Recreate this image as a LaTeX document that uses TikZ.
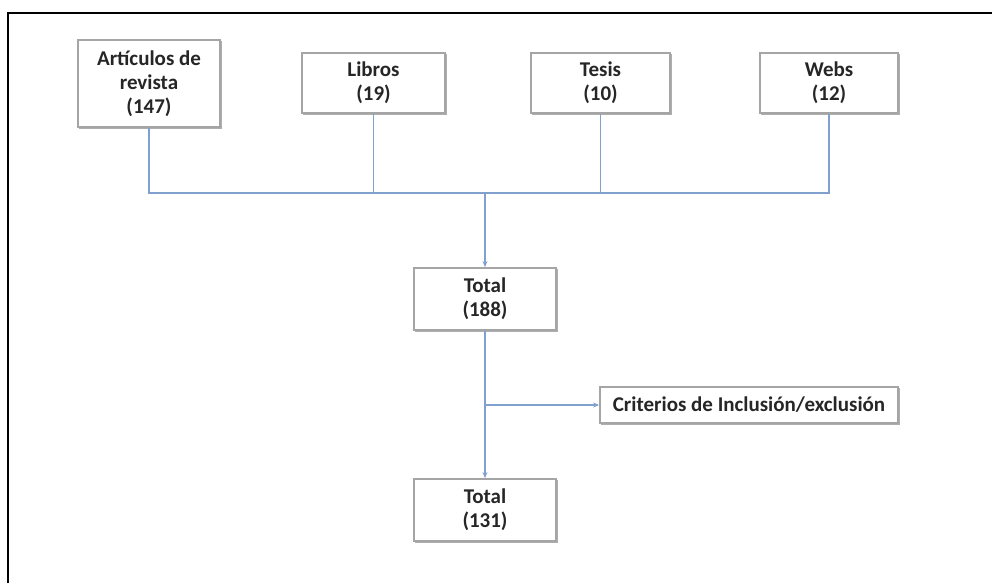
\documentclass[tikz,border=0pt]{standalone}
\usepackage{fontspec}
\setmainfont{Carlito}
\usetikzlibrary{arrows.meta}
\definecolor{conn}{RGB}{128,160,205}
\definecolor{boxline}{RGB}{165,165,165}
\definecolor{boxshadow}{RGB}{120,120,120}
\tikzset{
  srcbox/.style={draw=boxline, line width=1.8pt, fill=white, align=center,
    font=\fontsize{21}{24}\selectfont\bfseries, text=black!85, inner sep=2pt,
    preaction={draw=boxshadow!60, line width=1.4pt, transform canvas={xshift=1.4pt, yshift=-1.4pt}}},
  conline/.style={draw=conn, line width=1.5pt},
  conarrow/.style={conline, -{Stealth[length=6pt,width=5pt]}}
}
\begin{document}
\begin{tikzpicture}[x=1pt,y=-1pt]
\useasboundingbox (0,0) rectangle (992,583);
\draw[line width=2pt, black] (8,583) -- (8,13) -- (992,13);
\node[srcbox, minimum width=142pt, minimum height=87pt] (art) at (149,83.5) {Artículos de\\revista\\(147)};
\node[srcbox, minimum width=143pt, minimum height=60pt] (lib) at (373.5,83) {Libros\\(19)};
\node[srcbox, minimum width=139pt, minimum height=60pt] (tes) at (600.5,83) {Tesis\\(10)};
\node[srcbox, minimum width=138pt, minimum height=60pt] (web) at (829,83) {Webs\\(12)};
\node[srcbox, minimum width=142pt, minimum height=62pt] (tot1) at (485,299) {Total\\(188)};
\node[srcbox, minimum width=142pt, minimum height=62pt] (tot2) at (485,510) {Total\\(131)};
\node[srcbox, minimum width=298pt, minimum height=36pt] (crit) at (749,405) {Criterios de Inclusión/exclusión};
\coordinate (jl) at (150,193);
\coordinate (jr) at (828,193);
\coordinate (jm) at (485,193);
\coordinate (jb) at (485,405);
\draw[conline] (art.south) -- (art.south |- jl) -- (web.south |- jr) -- (web.south);
\draw[conline] (lib.south) -- (lib.south |- jl);
\draw[conline] (tes.south) -- (tes.south |- jl);
\draw[conarrow] (jm) -- (tot1.north);
\draw[conarrow] (tot1.south) -- (tot2.north);
\draw[conarrow] (jb) -- (crit.west);
\end{tikzpicture}
\end{document}
